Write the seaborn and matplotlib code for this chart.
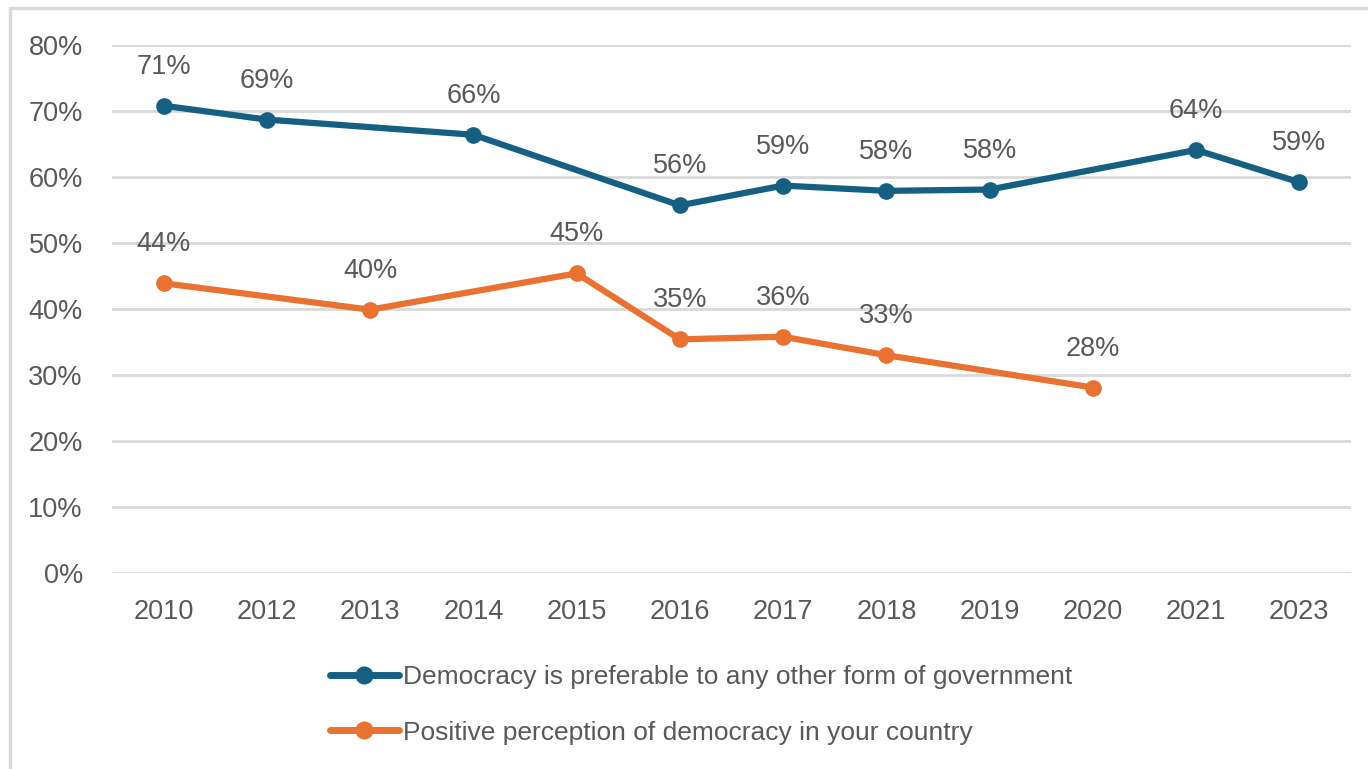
import numpy as np
import pandas as pd
import matplotlib
matplotlib.use("Agg")
import matplotlib.pyplot as plt
from matplotlib.patches import Rectangle
import seaborn as sns

years = ["2010", "2012", "2013", "2014", "2015", "2016", "2017", "2018", "2019", "2020", "2021", "2023"]
preferable = [70.8, 68.7, np.nan, 66.4, np.nan, 55.7, 58.7, 57.9, 58.1, np.nan, 64.1, 59.2]
positive = [43.9, np.nan, 39.9, np.nan, 45.4, 35.4, 35.8, 33.0, np.nan, 28.1, np.nan, np.nan]
series_names = ["Democracy is preferable to any other form of government",
                "Positive perception of democracy in your country"]
colors = ["#156082", "#E97132"]

rows = []
for name, vals in zip(series_names, [preferable, positive]):
    for i, v in enumerate(vals):
        if not np.isnan(v):
            rows.append({"pos": i, "year": years[i], "value": v, "series": name})
df = pd.DataFrame(rows)

sns.set_style("white")
plt.rcParams["font.family"] = ["Liberation Sans", "DejaVu Sans"]
text_color = "#595959"
fs = 19.5

fig = plt.figure(figsize=(13.68, 7.69), dpi=100)
ax = fig.add_axes([112 / 1368, 1 - 573 / 769, (1351 - 112) / 1368, (573 - 45) / 769])

sns.lineplot(data=df, x="pos", y="value", hue="series", palette=colors,
             hue_order=series_names, marker="o", markersize=12, markeredgewidth=0,
             linewidth=4.5, ax=ax, legend=True)

# value labels above each point
for _, r in df.iterrows():
    ax.annotate(f"{r['value']:.0f}%", (r["pos"], r["value"]), xytext=(0, 28),
                textcoords="offset points", ha="center", va="center",
                fontsize=fs, color=text_color)

ax.set_xlim(-0.5, len(years) - 0.5)
ax.set_ylim(0, 80)
ax.set_xticks(range(len(years)))
ax.set_xticklabels(years)
ax.set_yticks(range(0, 81, 10))
ax.set_yticklabels([f"{t}%" for t in range(0, 81, 10)])
ax.tick_params(axis="both", labelsize=fs, colors=text_color, length=0)
ax.tick_params(axis="x", pad=19)
ax.tick_params(axis="y", pad=21)
ax.grid(axis="y", color="#d9d9d9", linewidth=2)
ax.set_axisbelow(True)
for s in ax.spines.values():
    s.set_visible(False)
ax.set_xlabel("")
ax.set_ylabel("")

handles, labels = ax.get_legend_handles_labels()
ax.get_legend().remove()
leg = fig.legend(handles, labels, loc="upper left", bbox_to_anchor=(330 / 1368, 1 - 665 / 769),
                 frameon=False, fontsize=19, handlelength=2.6, handletextpad=0.15,
                 labelspacing=1.2, borderaxespad=0, borderpad=0)
for t in leg.get_texts():
    t.set_color(text_color)
for h in leg.get_lines():
    h.set_linewidth(5)
    h.set_markersize(13)

# light frame around the chart area
fig.patches.append(Rectangle((10 / 1368, -0.05), 1.1, 1 - 8 / 769 + 0.05,
                             transform=fig.transFigure, fill=False,
                             edgecolor="#d9d9d9", linewidth=2.5))

fig.savefig("out.png", dpi=100)
